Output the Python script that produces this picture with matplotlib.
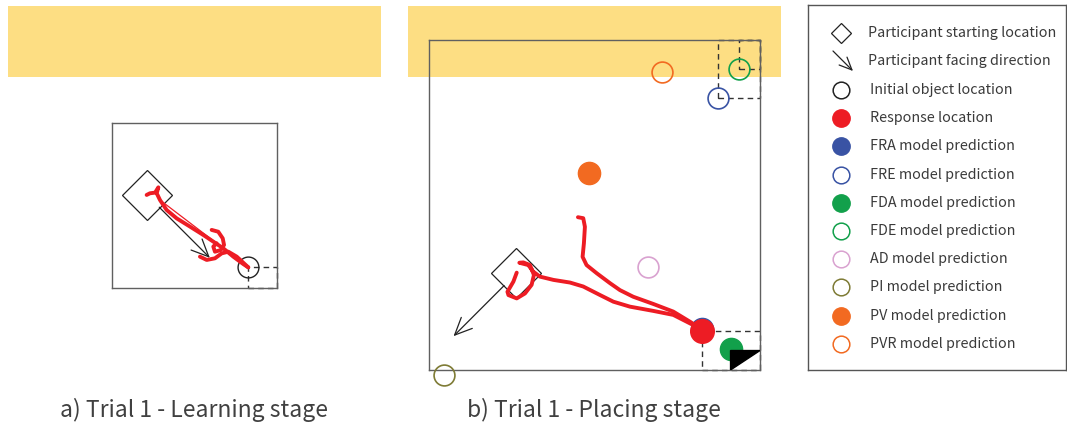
import numpy as np
import matplotlib
matplotlib.use("Agg")
import matplotlib.pyplot as plt
from matplotlib.patches import Rectangle, Polygon

plt.rcParams['font.family'] = ['Noto Sans CJK JP', 'DejaVu Sans']

# arena is 10 x 10 units, origin bottom-left
ARENA = 10.0

# ---- learning stage (trial 1)
learn_start = (2.12, 5.64)
learn_facing = -45          # degrees
learn_object = (8.26, 1.25)

learn_path1_x = [2.10, 2.30, 2.61, 2.81, 2.71, 2.91, 3.31, 3.92, 4.73, 5.54, 6.14, 6.75, 7.35, 7.96, 8.26]
learn_path1_y = [5.64, 5.74, 5.78, 6.10, 5.74, 5.33, 4.73, 4.22, 3.72, 3.21, 2.81, 2.40, 1.90, 1.45, 1.25]
learn_path2_x = [6.04, 6.44, 6.71, 6.79, 6.59, 6.24, 6.14, 6.34]
learn_path2_y = [3.52, 3.41, 3.01, 2.61, 2.30, 2.20, 2.51, 2.71]
learn_path3_x = [5.33, 5.74, 6.24, 6.65, 7.05, 7.56, 8.26]
learn_path3_y = [1.90, 1.70, 1.80, 2.10, 2.20, 1.90, 1.25]
learn_path4_x = [2.91, 8.26]
learn_path4_y = [5.33, 1.25]

# ---- placing stage (trial 1)
place_start = (2.64, 2.93)
place_facing = -135
response = (8.24, 1.19)
placed_obj_x = [9.11, 10.0, 9.11]
placed_obj_y = [0.59, 0.59, 0.0]

place_path1_x = [4.50, 4.66, 4.71, 4.68, 4.64, 4.76, 5.07, 5.47, 5.77, 6.17, 6.78, 7.38, 7.89, 8.19]
place_path1_y = [4.63, 4.60, 4.34, 3.84, 3.43, 3.18, 2.93, 2.63, 2.42, 2.22, 2.00, 1.77, 1.46, 1.26]
place_path2_x = [2.65, 2.55, 2.37, 2.40, 2.65, 2.90, 3.10, 3.17, 3.05, 2.85, 2.73, 3.00, 3.15, 3.35,
                 3.76, 4.26, 4.66, 5.17, 5.57, 6.07, 6.78, 7.38, 7.89, 8.19]
place_path2_y = [2.95, 2.68, 2.37, 2.27, 2.17, 2.32, 2.58, 2.88, 3.18, 3.26, 3.25, 3.18, 2.98, 2.83,
                 2.73, 2.65, 2.53, 2.27, 2.07, 1.92, 1.79, 1.67, 1.41, 1.26]

models = ['FRA', 'FRE', 'FDA', 'FDE', 'AD', 'PI', 'PV', 'PVR']
model_x = [8.24, 8.74, 9.11, 9.37, 6.62, 0.45, 4.83, 7.03]
model_y = [1.25, 8.23, 0.63, 9.12, 3.11, -0.15, 5.96, 9.02]

# styles
RED = '#ED1C24'
model_style = {
    'FRA': ('#3953A4', True), 'FRE': ('#3953A4', False),
    'FDA': ('#12A04B', True), 'FDE': ('#12A04B', False),
    'AD': ('#D9A2D0', False), 'PI': ('#7E7B35', False),
    'PV': ('#F26A21', True), 'PVR': ('#F26A21', False),
}
YELLOW = '#FDDE83'
TXT = '#3a3a3a'
BOX = '#606060'
TRACE_LW = 2.8

W, H = 1067, 426
fig = plt.figure(figsize=(W / 100, H / 100), dpi=100)


def fx(px):
    return px / W


def fy(py):
    return 1 - py / H


def arena_axes(left, top, size_w, size_h):
    ax = fig.add_axes([fx(left), fy(top + size_h), size_w / W, size_h / H])
    ax.set_xlim(0, ARENA)
    ax.set_ylim(0, ARENA)
    ax.patch.set_facecolor('none')
    ax.set_xticks([])
    ax.set_yticks([])
    for s in ax.spines.values():
        s.set_color(BOX)
        s.set_linewidth(1.0)
    return ax


def participant(ax, pos, facing, ms=25, length=64, apothem=12.5):
    ax.plot(*pos, marker='D', ms=ms, mfc='none', mec='#222222', mew=0.9, clip_on=False, zorder=4)
    a = np.deg2rad(facing)
    ax.annotate('', xy=pos, xytext=(length * np.cos(a), length * np.sin(a)),
                textcoords='offset points',
                arrowprops=dict(arrowstyle='<-, head_length=0.62, head_width=0.28',
                                mutation_scale=20, color='#222222', lw=0.9,
                                shrinkA=0, shrinkB=apothem),
                zorder=4)


def dashed_rect(ax, p, corner):
    x0, x1 = sorted([p[0], corner[0]])
    y0, y1 = sorted([p[1], corner[1]])
    ax.add_patch(Rectangle((x0, y0), x1 - x0, y1 - y0, fill=False, ls=(0, (4, 3)),
                           ec='#333333', lw=1.0, zorder=2, clip_on=False))


def trace(ax, xs, ys, lw=TRACE_LW):
    ax.plot(xs, ys, color=RED, lw=lw, solid_capstyle='round', solid_joinstyle='round', zorder=5)


# yellow bands behind both arenas
for left in (8, 408):
    fig.add_artist(Rectangle((fx(left), fy(77)), 373 / W, 71 / H, transform=fig.transFigure,
                             color=YELLOW, lw=0, zorder=-1))

# ---- panel a
ax_a = arena_axes(112, 123, 165, 165)
dashed_rect(ax_a, learn_object, (ARENA, 0))
ax_a.plot(*learn_object, 'o', ms=15, mfc='none', mec='#222222', mew=1.0, zorder=3)
trace(ax_a, learn_path1_x, learn_path1_y)
trace(ax_a, learn_path2_x, learn_path2_y)
trace(ax_a, learn_path3_x, learn_path3_y)
trace(ax_a, learn_path4_x, learn_path4_y, lw=0.9)
participant(ax_a, learn_start, learn_facing)

# ---- panel b
ax_b = arena_axes(429, 40, 331, 330)
fre = model_x[1], model_y[1]
fde = model_x[3], model_y[3]
dashed_rect(ax_b, fre, (ARENA, ARENA))
dashed_rect(ax_b, fde, (ARENA, ARENA))
dashed_rect(ax_b, response, (ARENA, 0))
ax_b.add_patch(Polygon(np.column_stack([placed_obj_x, placed_obj_y]), closed=True,
                       color='black', zorder=4))
for name, x, y in zip(models, model_x, model_y):
    c, filled = model_style[name]
    if filled:
        ax_b.plot(x, y, 'o', ms=16, color=c, mec=c, zorder=3, clip_on=False)
    else:
        ax_b.plot(x, y, 'o', ms=15, mfc='none', mec=c, mew=1.2, zorder=3, clip_on=False)
trace(ax_b, place_path1_x, place_path1_y)
trace(ax_b, place_path2_x, place_path2_y)
ax_b.plot(*response, 'o', ms=17, color=RED, zorder=6)
participant(ax_b, place_start, place_facing)

# ---- captions
fig.text(fx(194), fy(410), 'a) Trial 1 - Learning stage', ha='center', va='center',
         fontsize=16.5, color='#404040')
fig.text(fx(594), fy(410), 'b) Trial 1 - Placing stage', ha='center', va='center',
         fontsize=16.5, color='#404040')

# ---- legend box
ax_l = fig.add_axes([fx(808), fy(370), 258 / W, 365 / H])
ax_l.set_xlim(0, 258)
ax_l.set_ylim(365, 0)
ax_l.set_xticks([])
ax_l.set_yticks([])
for s in ax_l.spines.values():
    s.set_color('#555555')
    s.set_linewidth(1.0)

legend_labels = ['Participant starting location', 'Participant facing direction',
                 'Initial object location', 'Response location'] + \
                [m + ' model prediction' for m in models]
rows = [28.3, 55.5] + [85 + 28.2 * i for i in range(len(legend_labels) - 2)]
mx = 33
ax_l.plot(mx, rows[0], marker='D', ms=10.5, mfc='none', mec='#222222', mew=0.9)
ax_l.annotate('', xy=(mx + 12, rows[1] + 10.5), xytext=(mx - 8, rows[1] - 9.5),
              arrowprops=dict(arrowstyle='->, head_length=0.45, head_width=0.2',
                              mutation_scale=20, color='#222222', lw=0.9, shrinkA=0, shrinkB=0))
ax_l.plot(mx, rows[2], 'o', ms=12, mfc='none', mec='#222222', mew=1.1)
ax_l.plot(mx, rows[3], 'o', ms=12.5, color=RED)
for name, y in zip(models, rows[4:]):
    c, filled = model_style[name]
    if filled:
        ax_l.plot(mx, y, 'o', ms=12.5, color=c)
    else:
        ax_l.plot(mx, y, 'o', ms=12, mfc='none', mec=c, mew=1.1)
for i, (lab, y) in enumerate(zip(legend_labels, rows)):
    ax_l.text(60 if i < 2 else 62, y, lab, ha='left', va='center', fontsize=10.3, color=TXT)

fig.savefig('out.png', dpi=100)
